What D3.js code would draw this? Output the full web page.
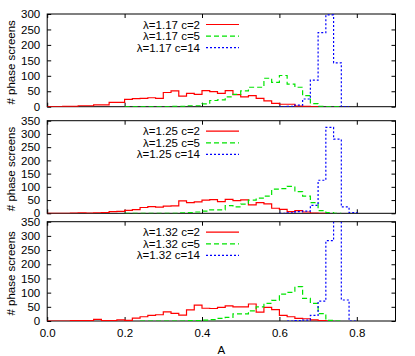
<!DOCTYPE html>
<html>
<head>
<meta charset="utf-8">
<script src="https://cdn.jsdelivr.net/npm/d3@7"></script>
<style>
  body { margin: 0; background: #fff; }
  svg text { font-family: "Liberation Sans", Arial, sans-serif; }
</style>
</head>
<body>
<svg id="chart"></svg>
<script>
// bin left edges (width 0.02)
const binStarts = [0.00, 0.02, 0.04, 0.06, 0.08, 0.10, 0.12, 0.14, 0.16, 0.18,
                   0.20, 0.22, 0.24, 0.26, 0.28, 0.30, 0.32, 0.34, 0.36, 0.38,
                   0.40, 0.42, 0.44, 0.46, 0.48, 0.50, 0.52, 0.54, 0.56, 0.58,
                   0.60, 0.62, 0.64, 0.66, 0.68, 0.70, 0.72, 0.74, 0.76, 0.78, 0.80];
const binWidth = 0.02;

// counts per bin, null = no data in that bin
const red117 = [0,0,1,1,3,3,6,6,14,14,24,26,27,29,27,46,51,34,43,40,52,49,43,52,39,32,36,27,19,11,8,8,2,1,0,
                null,null,null,null,null,null];
const green117 = [null,null,null,null,null,null,null,null,null,null,
                  0,0,0,0,0,0,1,1,3,3,9,20,22,32,40,51,63,63,92,79,101,73,63,36,10,1,0,0,
                  null,null,null];
const blue117 = [null,null,null,null,null,null,null,null,null,null,
                 null,null,null,null,null,null,null,null,null,null,
                 null,null,null,null,null,null,null,null,null,null,
                 0,1,5,25,86,240,297,142,0,null,null];

const red125 = [0,0,0,1,2,1,2,3,6,7,11,14,22,25,23,27,28,47,40,43,50,52,44,53,48,51,32,40,36,19,15,6,10,5,1,0,
                null,null,null,null,null];
const green125 = [null,null,null,null,null,null,null,null,null,null,
                  0,0,0,0,0,0,0,2,3,5,8,13,13,29,24,35,50,57,65,91,93,102,82,65,40,10,3,0,
                  null,null,null];
const blue125 = [null,null,null,null,null,null,null,null,null,null,
                 null,null,null,null,null,null,null,null,null,null,
                 null,null,null,null,null,null,null,null,null,null,
                 0,2,6,8,30,125,325,280,24,3,null];

const red132 = [0,0,0,1,1,1,6,1,1,4,2,10,15,20,22,32,27,21,39,56,45,44,48,53,50,50,60,31,48,40,20,15,9,8,4,1,0,
                null,null,null,null];
const green132 = [null,null,null,null,null,null,null,null,null,null,null,null,
                  0,0,0,0,0,0,1,1,3,5,9,13,25,25,36,50,62,73,95,101,121,80,62,26,2,0,
                  null,null,null];
const blue132 = [null,null,null,null,null,null,null,null,null,null,
                 null,null,null,null,null,null,null,null,null,null,
                 null,null,null,null,null,null,null,null,null,null,
                 null,0,1,3,20,70,283,390,74,0,null];

const lambdas = ["1.17", "1.25", "1.32"];
const cValues = [2, 5, 14];
const yMaxes = [300, 350, 350];
const yTicksTop = [0, 50, 100, 150, 200, 250, 300];
const yTicksLower = [0, 50, 100, 150, 200, 250, 300, 350];
const xTicks = [0.0, 0.2, 0.4, 0.6, 0.8];

const panels = [
  { lambda: lambdas[0], series: [red117, green117, blue117], yMax: yMaxes[0], ticks: yTicksTop },
  { lambda: lambdas[1], series: [red125, green125, blue125], yMax: yMaxes[1], ticks: yTicksLower },
  { lambda: lambdas[2], series: [red132, green132, blue132], yMax: yMaxes[2], ticks: yTicksLower }
];

const width = 415;
const height = 356;
const left = 47.2;
const right = 395.5;
const boxes = [
  { top: 14, bottom: 106.7 },
  { top: 120.7, bottom: 213.3 },
  { top: 221.7, bottom: 321 }
];
const styles = [
  { color: "#ff0000", dash: null },
  { color: "#00e400", dash: "5,3" },
  { color: "#0000ff", dash: "2,2" }
];
const fontSize = 11.5;

const svg = d3.select("#chart")
  .attr("width", width)
  .attr("height", height);

const x = d3.scaleLinear().domain([0, 0.9]).range([left, right]);

function styleAxis(g) {
  g.attr("font-size", fontSize).attr("font-family", null);
  g.select(".domain").remove();
  g.selectAll(".tick line").attr("stroke", "#000");
  g.selectAll(".tick text").attr("fill", "#000");
}

panels.forEach((p, k) => {
  const box = boxes[k];
  const y = d3.scaleLinear().domain([0, p.yMax]).range([box.bottom, box.top]);
  const g = svg.append("g");
  const last = k === panels.length - 1;

  svg.append("clipPath").attr("id", "clip" + k)
    .append("rect")
    .attr("x", left).attr("y", box.top)
    .attr("width", right - left).attr("height", box.bottom - box.top);

  // axes, ticks pointing inwards like gnuplot
  g.append("g")
    .attr("transform", `translate(${left},0)`)
    .call(d3.axisLeft(y).tickValues(p.ticks).tickSizeInner(-4).tickSizeOuter(0).tickPadding(7))
    .call(styleAxis);
  g.append("g")
    .attr("transform", `translate(${right},0)`)
    .call(d3.axisRight(y).tickValues(p.ticks).tickSizeInner(-4).tickSizeOuter(0).tickFormat(""))
    .call(styleAxis);
  g.append("g")
    .attr("transform", `translate(0,${box.top})`)
    .call(d3.axisTop(x).tickValues(xTicks).tickSizeInner(-4).tickSizeOuter(0).tickFormat(""))
    .call(styleAxis);
  g.append("g")
    .attr("transform", `translate(0,${box.bottom})`)
    .call(d3.axisBottom(x).tickValues(xTicks).tickSizeInner(-4).tickSizeOuter(0).tickPadding(8)
      .tickFormat(last ? d3.format(".1f") : ""))
    .call(styleAxis);

  g.append("rect")
    .attr("x", left).attr("y", box.top)
    .attr("width", right - left).attr("height", box.bottom - box.top)
    .attr("fill", "none").attr("stroke", "#000").attr("stroke-width", 1);

  // y title
  g.append("text")
    .attr("transform", `translate(14.5,${(box.top + box.bottom) / 2 + 2}) rotate(-90)`)
    .attr("text-anchor", "middle")
    .attr("font-size", fontSize)
    .text("# phase screens");

  const line = d3.line()
    .x(d => x(d.a))
    .y(d => y(d.v))
    .curve(d3.curveStepAfter);

  p.series.forEach((vals, j) => {
    const pts = binStarts.map((a, i) => ({ a: a, v: vals[i] })).filter(d => d.v !== null);
    const end = pts[pts.length - 1];
    pts.push({ a: end.a + binWidth, v: end.v });
    pts.push({ a: end.a + binWidth, v: 0 });

    g.append("path")
      .datum(pts)
      .attr("clip-path", `url(#clip${k})`)
      .attr("fill", "none")
      .attr("stroke", styles[j].color)
      .attr("stroke-width", 1.2)
      .attr("stroke-dasharray", styles[j].dash)
      .attr("d", line);

    // legend
    const ly = box.top + 10.5 + j * 11.6;
    g.append("text")
      .attr("x", 200).attr("y", ly)
      .attr("dy", "0.35em")
      .attr("text-anchor", "end")
      .attr("font-size", fontSize)
      .text(`λ=${p.lambda} c=${cValues[j]}`);
    g.append("line")
      .attr("x1", 206).attr("x2", 239)
      .attr("y1", ly).attr("y2", ly)
      .attr("stroke", styles[j].color)
      .attr("stroke-width", 1.2)
      .attr("stroke-dasharray", styles[j].dash);
  });
});

svg.append("text")
  .attr("x", (left + right) / 2)
  .attr("y", 354)
  .attr("text-anchor", "middle")
  .attr("font-size", fontSize)
  .text("A");
</script>
</body>
</html>
